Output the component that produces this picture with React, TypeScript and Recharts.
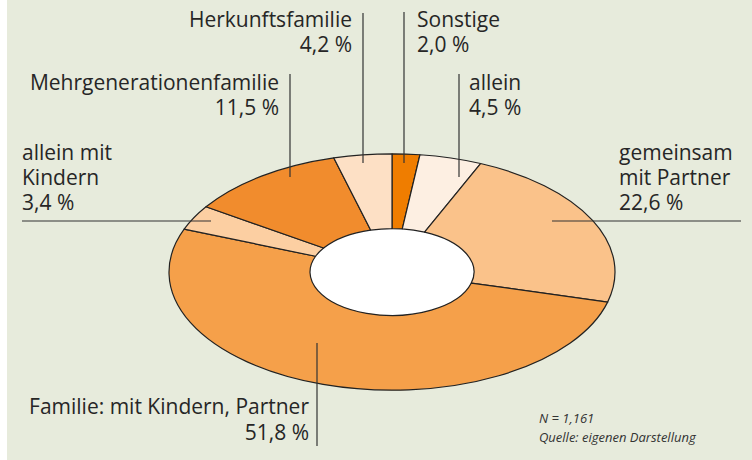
import { PieChart, Pie, Cell } from 'recharts';

// Anteile der Wohnformen (im Uhrzeigersinn ab 12 Uhr)
const categories = [
  'Sonstige',
  'allein',
  'gemeinsam mit Partner',
  'Familie: mit Kindern, Partner',
  'allein mit Kindern',
  'Mehrgenerationenfamilie',
  'Herkunftsfamilie',
];
const shares = [2.0, 4.5, 22.6, 51.8, 3.4, 11.5, 4.2];
const shareLabels = ['2,0 %', '4,5 %', '22,6 %', '51,8 %', '3,4 %', '11,5 %', '4,2 %'];
const colors = ['#ef7d00', '#fdefe2', '#fac28a', '#f5a04a', '#fccfa2', '#f18c2d', '#fde0c5'];

const data = categories.map((name, i) => ({ name, value: shares[i] }));

// Geometrie des (gestauchten) Rings
const CX = 392;
const CY = 272;
const R_OUT = 223;
const R_IN = 82;
const K = 0.53; // vertikale Stauchung
const RAD = Math.PI / 180;

const pt = (r: number, a: number) => [CX + r * Math.cos(-a * RAD), CY + K * r * Math.sin(-a * RAD)];

const EllipseSector = (props: any) => {
  const { innerRadius, outerRadius, startAngle, endAngle, fill } = props;
  const large = Math.abs(endAngle - startAngle) > 180 ? 1 : 0;
  const [x1, y1] = pt(outerRadius, startAngle);
  const [x2, y2] = pt(outerRadius, endAngle);
  const [x3, y3] = pt(innerRadius, endAngle);
  const [x4, y4] = pt(innerRadius, startAngle);
  const d =
    `M${x1},${y1} A${outerRadius},${outerRadius * K} 0 ${large} 1 ${x2},${y2} ` +
    `L${x3},${y3} A${innerRadius},${innerRadius * K} 0 ${large} 0 ${x4},${y4} Z`;
  return <path d={d} fill={fill} stroke="#222" strokeWidth={1.2} strokeLinejoin="round" />;
};

const textStyle = { fontFamily: '"Open Sans", sans-serif', fontSize: 21, fill: '#262626' };

export default function App() {
  return (
    <div style={{ position: 'absolute', left: 0, top: 0, width: 752, height: 460, background: '#fff' }}>
      <div style={{ position: 'absolute', left: 7, top: 0, width: 745, height: 460, background: '#e7ebdc' }} />
      <svg width={752} height={460} style={{ position: 'absolute', left: 0, top: 0 }}>
        <ellipse cx={CX} cy={CY} rx={R_IN} ry={R_IN * K} fill="#fff" />
      </svg>
      <div style={{ position: 'absolute', left: 0, top: 0 }}>
        <PieChart width={752} height={460} margin={{ top: 0, right: 0, bottom: 0, left: 0 }}>
          <Pie
            data={data}
            dataKey="value"
            nameKey="name"
            cx={CX}
            cy={CY}
            innerRadius={R_IN}
            outerRadius={R_OUT}
            startAngle={90}
            endAngle={-270}
            stroke="#222"
            strokeWidth={1.2}
            shape={EllipseSector}
            isAnimationActive={false}
          >
            {data.map((d, i) => (
              <Cell key={d.name} fill={colors[i]} />
            ))}
          </Pie>
        </PieChart>
      </div>
      <svg width={752} height={460} style={{ position: 'absolute', left: 0, top: 0, pointerEvents: 'none' }}>
        <g stroke="#333" strokeWidth={1.2}>
          <line x1={363} y1={13} x2={363} y2={163} />
          <line x1={404} y1={12} x2={404} y2={163} />
          <line x1={459} y1={74} x2={459} y2={177} />
          <line x1={290} y1={74} x2={290} y2={177} />
          <line x1={22} y1={221} x2={211} y2={221} />
          <line x1={552} y1={221} x2={741} y2={221} />
          <line x1={317} y1={343} x2={317} y2={446} />
        </g>
        <g style={textStyle}>
          <text x={352} y={27} textAnchor="end">{categories[6]}</text>
          <text x={352} y={52} textAnchor="end">{shareLabels[6]}</text>
          <text x={417} y={27}>{categories[0]}</text>
          <text x={417} y={52}>{shareLabels[0]}</text>
          <text x={469} y={90}>{categories[1]}</text>
          <text x={469} y={115}>{shareLabels[1]}</text>
          <text x={279} y={90} textAnchor="end">{categories[5]}</text>
          <text x={279} y={115} textAnchor="end">{shareLabels[5]}</text>
          <text x={22} y={160}>allein mit</text>
          <text x={22} y={185}>Kindern</text>
          <text x={22} y={210}>{shareLabels[4]}</text>
          <text x={619} y={160}>gemeinsam</text>
          <text x={619} y={185}>mit Partner</text>
          <text x={619} y={210}>{shareLabels[2]}</text>
          <text x={309} y={414} textAnchor="end">{categories[3]}</text>
          <text x={309} y={440} textAnchor="end">{shareLabels[3]}</text>
        </g>
        <g style={{ fontFamily: '"Open Sans", sans-serif', fontSize: 13, fontStyle: 'italic', fill: '#333' }}>
          <text x={539} y={423}>N = 1,161</text>
          <text x={539} y={442}>Quelle: eigenen Darstellung</text>
        </g>
      </svg>
    </div>
  );
}
